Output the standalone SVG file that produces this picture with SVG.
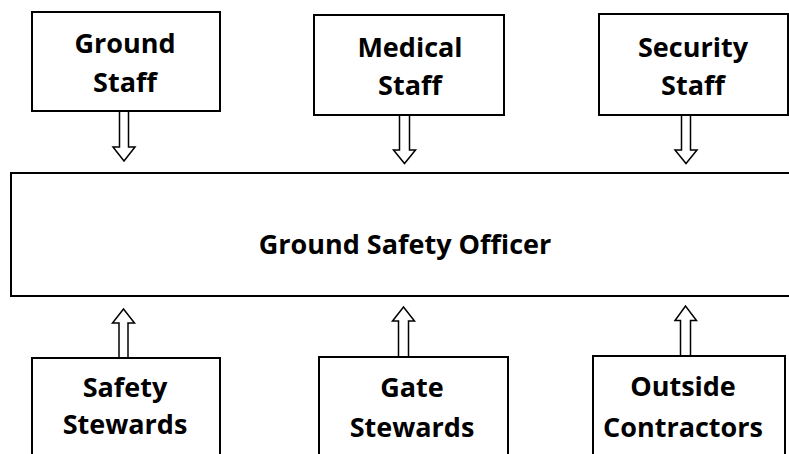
<svg xmlns="http://www.w3.org/2000/svg" width="789" height="454" viewBox="0 0 789 454">
<style>
.box{fill:#fff;stroke:#000;stroke-width:2}
.arr{fill:#fff;stroke:#000;stroke-width:1.5;stroke-linejoin:miter}
text{font-family:"Open Sans","Liberation Sans",sans-serif;font-weight:bold;font-size:27px;fill:#000;text-anchor:middle}
</style>
<rect width="789" height="454" fill="#fff"/>
<g id="connectors">
<path class="arr" d="M119.5,111 V147 H113 L124,161 L135,147 H128.5 V111 Z"/>
<path class="arr" d="M399.5,115 V150 H393.5 L404.5,163.5 L415.5,150 H409.5 V115 Z"/>
<path class="arr" d="M681.5,115 V150 H675 L686,163.5 L697,150 H690.5 V115 Z"/>
<path class="arr" d="M119,358 V323 H112.5 L123.5,309 L134.5,323 H128 V358 Z"/>
<path class="arr" d="M398.5,357 V321 H392.5 L403.5,307 L414.5,321 H408.5 V357 Z"/>
<path class="arr" d="M680.5,356 V320.5 H675 L685.5,306 L696.5,320.5 H690.5 V356 Z"/>
</g>
<g id="ground-staff">
<rect class="box" x="32" y="12" width="188" height="99"/>
<text x="125" y="53">Ground</text>
<text x="125" y="92">Staff</text>
</g>
<g id="medical-staff">
<rect class="box" x="314" y="15" width="190" height="100"/>
<text x="410" y="57">Medical</text>
<text x="410" y="95">Staff</text>
</g>
<g id="security-staff">
<rect class="box" x="599" y="14" width="189" height="101"/>
<text x="693" y="57">Security</text>
<text x="693" y="95">Staff</text>
</g>
<g id="ground-safety-officer">
<rect class="box" x="11" y="173" width="790" height="123"/>
<text x="405" y="254">Ground Safety Officer</text>
</g>
<g id="safety-stewards">
<rect class="box" x="32" y="358" width="188" height="110"/>
<text x="125" y="397">Safety</text>
<text x="125" y="434">Stewards</text>
</g>
<g id="gate-stewards">
<rect class="box" x="319" y="357" width="189" height="110"/>
<text x="412" y="397">Gate</text>
<text x="412" y="437">Stewards</text>
</g>
<g id="outside-contractors">
<rect class="box" x="593" y="356" width="192" height="110"/>
<text x="683" y="396">Outside</text>
<text x="683" y="437">Contractors</text>
</g>
</svg>
